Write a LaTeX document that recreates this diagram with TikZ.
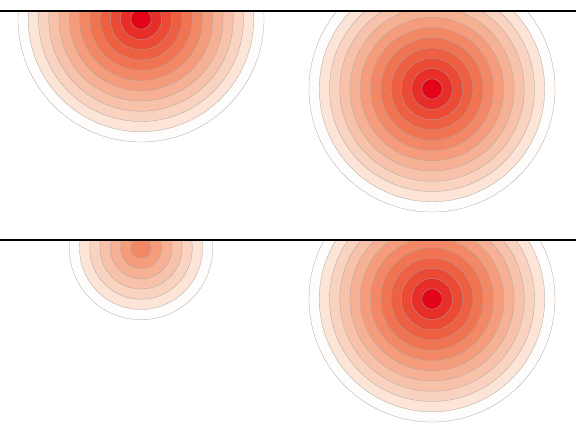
\documentclass[tikz,border=0pt]{standalone}
\definecolor{ring1}{RGB}{228,4,24}
\definecolor{ring2}{RGB}{232,46,40}
\definecolor{ring3}{RGB}{235,74,52}
\definecolor{ring4}{RGB}{238,96,66}
\definecolor{ring5}{RGB}{240,116,82}
\definecolor{ring6}{RGB}{242,136,102}
\definecolor{ring7}{RGB}{244,156,124}
\definecolor{ring8}{RGB}{246,176,148}
\definecolor{ring9}{RGB}{248,194,170}
\definecolor{ring10}{RGB}{250,210,192}
\definecolor{ring11}{RGB}{252,228,214}
\definecolor{ring12}{RGB}{255,253,251}
\tikzset{
  ring/.style={draw=black!35, line width=0.3pt},
  rule/.style={draw=black, line width=1.6pt}
}
\begin{document}
\begin{tikzpicture}[x=1pt,y=-1pt]
			\useasboundingbox (0,0) rectangle (576,437);
			\coordinate (topleft) at (141,19);
			\coordinate (topright) at (432,89);
			\coordinate (botleft) at (141,248);
			\coordinate (botright) at (432,299);
			
			\coordinate (rulea west) at (0,11);
			\coordinate (rulea east) at (576,11);
			\coordinate (ruleb west) at (0,240);
			\coordinate (ruleb east) at (576,240);
			
			\begin{scope}
				\clip (0,11) rectangle (576,240);
				\foreach \k in {12,...,1} {
					\draw[ring, fill=ring\k] (topleft) circle ({10.25*\k});
					\draw[ring, fill=ring\k] (topright) circle ({10.25*\k});
				}
			\end{scope}
			
			\begin{scope}
				\clip (0,240) rectangle (576,437);
				\foreach \k in {12,...,1} {
					\draw[ring, fill=ring\k] (botright) circle ({10.25*\k});
				}
				\foreach \k in {7,...,1} {
					\pgfmathtruncatemacro{\c}{\k+5}
					\draw[ring, fill=ring\c] (botleft) circle ({10.25*\k});
				}
			\end{scope}
			
			\draw[rule] (rulea west) -- (rulea east);
			\draw[rule] (ruleb west) -- (ruleb east);
		\end{tikzpicture}
\end{document}
